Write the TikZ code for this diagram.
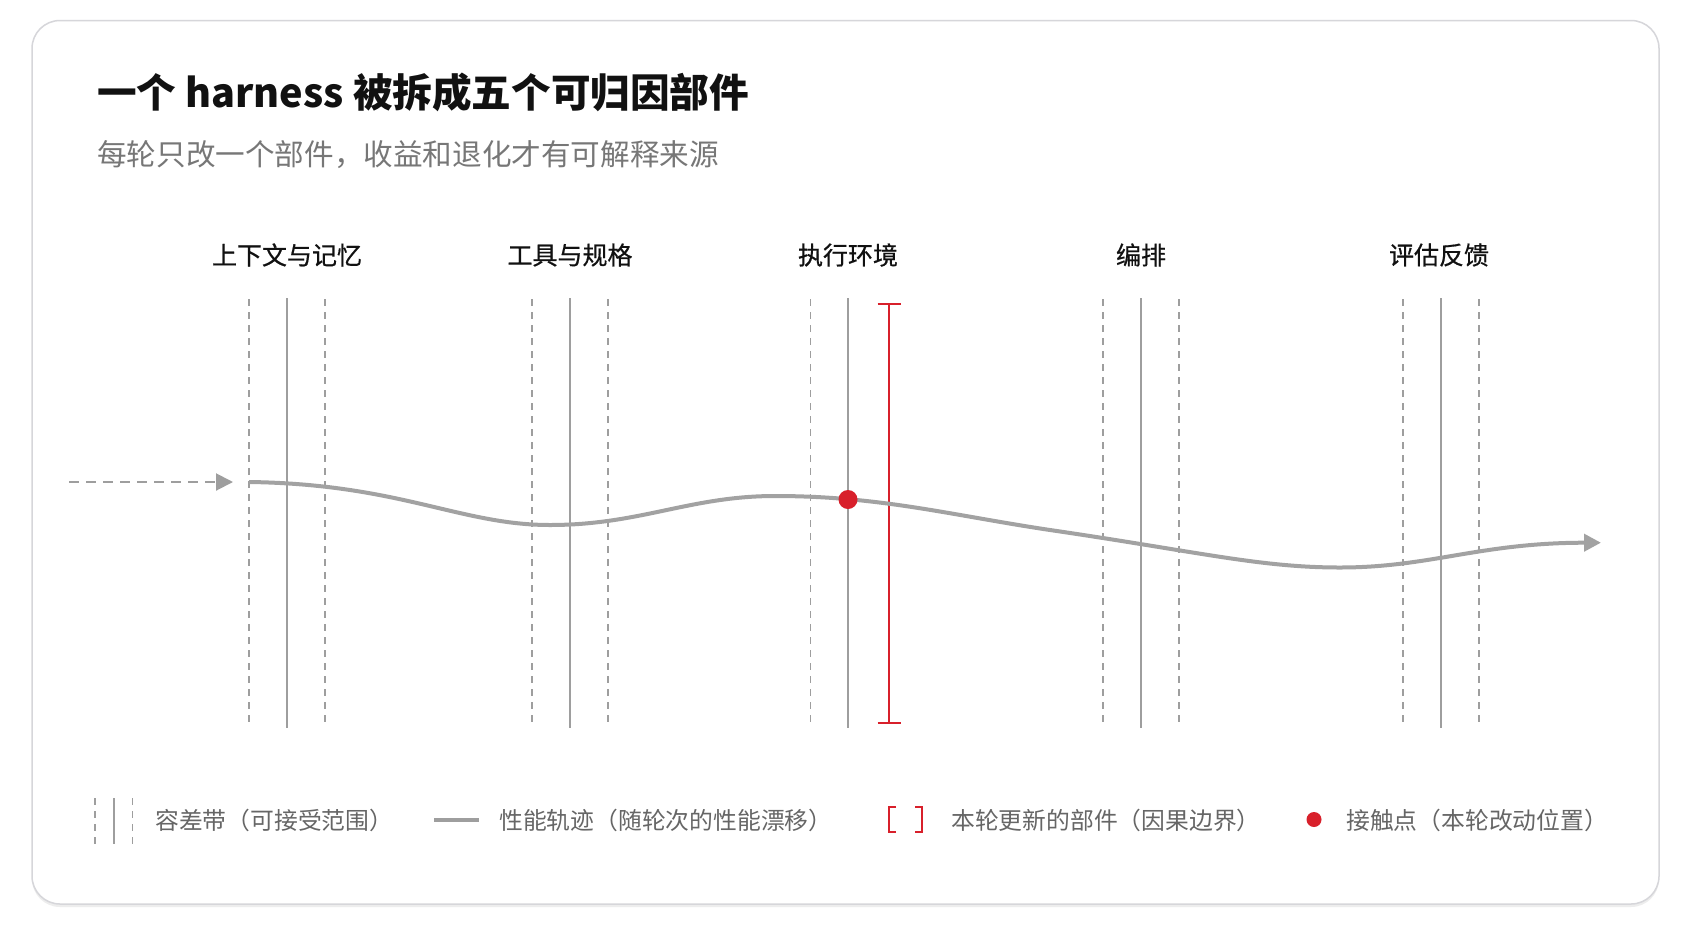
\documentclass[tikz,border=0pt]{standalone}
\usepackage{fontspec}
\setmainfont{Noto Sans CJK SC}
\newfontfamily\labfont[FakeBold=0.6]{Noto Sans CJK SC}
\usetikzlibrary{arrows.meta}
\definecolor{cardborder}{HTML}{D6D6DA}
\definecolor{guidegray}{HTML}{9E9E9E}
\definecolor{curvegray}{HTML}{A2A2A2}
\definecolor{accentred}{HTML}{D8202B}
\definecolor{titleblack}{HTML}{111111}
\definecolor{subgray}{HTML}{777777}
\definecolor{leggray}{HTML}{666666}
\begin{document}
\begin{tikzpicture}[x=1pt,y=-1pt,
  guide/.style={draw=guidegray,line width=2pt},
  band/.style={draw=guidegray,line width=1.6pt,dash pattern=on 7pt off 6pt},
  trace/.style={draw=curvegray,line width=4pt,line cap=round},
  boundary/.style={draw=accentred,line width=2pt},
  collabel/.style={inner sep=0pt,font=\labfont\fontsize{25}{30}\selectfont,text=titleblack},
  legtext/.style={anchor=west,inner sep=0pt,font=\fontsize{23.8}{28}\selectfont,text=leggray},
  tip/.style={-{Triangle[length=17pt,width=17pt]}}]
\useasboundingbox (0,0) rectangle (1693,929);
\fill[white] (0,0) rectangle (1693,929);
% card
\fill[black!7,rounded corners=28pt] (32,23.5) rectangle (1659,907);
\draw[cardborder,line width=1.5pt,fill=white,rounded corners=28pt] (32,20.5) rectangle (1659,904);
% titles
\node[anchor=west,inner sep=0pt,font=\bfseries\fontsize{39.6}{46}\selectfont,text=titleblack] (title) at (97,92.5) {一个 harness 被拆成五个可归因部件};
\node[anchor=west,inner sep=0pt,font=\fontsize{29.6}{35}\selectfont,text=subgray] (subtitle) at (97,155) {每轮只改一个部件，收益和退化才有可解释来源};
% column labels
\node[collabel] (lab1) at (287,255) {上下文与记忆};
\node[collabel] (lab2) at (570,255) {工具与规格};
\node[collabel] (lab3) at (848,255) {执行环境};
\node[collabel] (lab4) at (1141,255) {编排};
\node[collabel] (lab5) at (1439,255) {评估反馈};
% guides
\foreach \c in {287,570,1141,1441}{
  \draw[band] (\c-37.8,299) -- (\c-37.8,728);
  \draw[guide] (\c,298) -- (\c,728);
  \draw[band] (\c+37.8,299) -- (\c+37.8,728);
}
\draw[band] (810.5,299) -- (810.5,728);
\draw[guide] (848,298) -- (848,728);
% boundary bracket
\coordinate (btop) at (889,304);
\coordinate (bbot) at (889,723);
\draw[boundary] (btop) -- (bbot);
\draw[boundary] ([xshift=-11.5pt]btop) -- ([xshift=11.5pt]btop);
\draw[boundary] ([xshift=-11.5pt]bbot) -- ([xshift=11.5pt]bbot);
% incoming dashed arrow
\coordinate (inStart) at (69,482);
\coordinate (inEnd) at (233,482);
\coordinate (trStart) at (249,482);
\coordinate (trEnd) at (1601,542.7);
\draw[draw=guidegray,line width=2pt,dash pattern=on 10pt off 7pt,tip] (inStart) -- (inEnd);
% performance trace
\draw[trace,line cap=butt,tip] (trStart)
  .. controls (400,484) and (460,525) .. (550,525)
  .. controls (640,525) and (690,496) .. (775,496)
  .. controls (880,496) and (950,515) .. (1050,530)
  .. controls (1200,552) and (1260,567.5) .. (1340,567.5)
  .. controls (1430,567.5) and (1480,542.7) .. (trEnd);
% contact point
\fill[accentred] (848,499.5) circle (9.5pt);
\node[inner sep=0pt] (contact) at (848,499.5) {};
% legend
\draw[band,line width=1.3pt] (95,798) -- (95,845);
\draw[guide,line width=2.5pt] (114,798) -- (114,844);
\draw[band,line width=1.3pt] (132.7,798) -- (132.7,845);
\node[legtext] (leg1) at (155,820) {容差带（可接受范围）};
\coordinate (lgA) at (434,820);
\coordinate (lgB) at (479,820);
\draw[draw=guidegray,line width=3.5pt] (lgA) -- (lgB);
\node[legtext] (leg2) at (499,820) {性能轨迹（随轮次的性能漂移）};
\draw[boundary] (896,807) -- (889,807) -- (889,832) -- (896,832);
\draw[boundary] (915,807) -- (922,807) -- (922,832) -- (915,832);
\node[legtext] (leg3) at (951,820) {本轮更新的部件（因果边界）};
\fill[accentred] (1314,819.5) circle (7.5pt);
\node[legtext] (leg4) at (1346,820) {接触点（本轮改动位置）};
\end{tikzpicture}
\end{document}
